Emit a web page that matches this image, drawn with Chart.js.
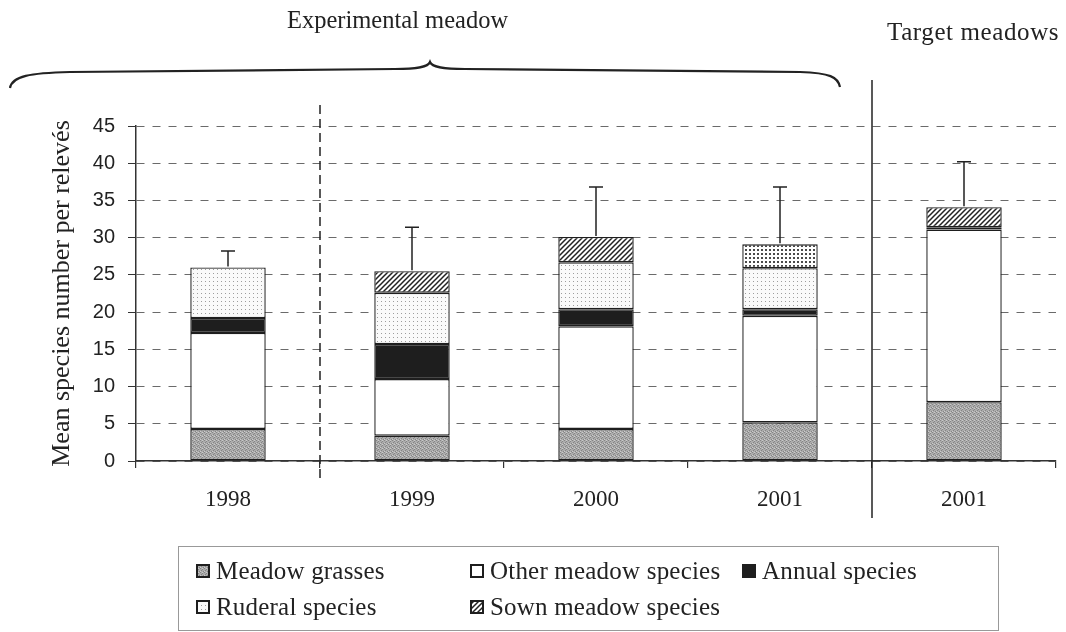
<!DOCTYPE html>
<html><head><meta charset="utf-8">
<script src="https://cdn.jsdelivr.net/npm/chart.js@4.4.0/dist/chart.umd.min.js"></script>
<style>
html,body{margin:0;padding:0;background:#fff;}
#wrap{position:relative;width:1066px;height:632px;overflow:hidden;background:#fff;}
#c{position:absolute;left:0;top:0;}
.lbl{position:absolute;font-family:"Liberation Serif",serif;color:#222;white-space:nowrap;line-height:26px;}
#legend{position:absolute;left:178px;top:546px;width:821px;height:85px;border:1px solid #999;box-sizing:border-box;font-family:"Liberation Serif",serif;font-size:25px;color:#222;}
.item{position:absolute;display:flex;align-items:center;white-space:nowrap;line-height:28px;height:28px;letter-spacing:0.2px;}
.item canvas{width:14px;height:14px;margin-right:6px;}
</style></head>
<body><div id="wrap">
<canvas id="c" width="1066" height="632"></canvas>
<svg width="1066" height="632" style="position:absolute;left:0;top:0;pointer-events:none">
<path d="M10,88 C12,76 30,73 70,72 L395,69 C418,69 428,67 430,62 C432,67 442,69 465,69 L800,72 C830,73 838,77 840,87" fill="none" stroke="#222" stroke-width="2.2"/>
</svg>
<div class="lbl" style="left:287px;top:7px;font-size:24.5px">Experimental meadow</div>
<div class="lbl" style="left:887px;top:19px;font-size:25px;letter-spacing:0.6px">Target meadows</div>
<div id="legend"></div>
</div>
<script>
// ---- data ----
const categories = ['1998', '1999', '2000', '2001', '2001'];
const meadowGrasses = [4.3, 3.4, 4.3, 5.2, 7.9];
const otherMeadow = [12.9, 7.6, 13.8, 14.3, 23.2];
const annualSpecies = [2.0, 4.7, 2.3, 0.9, 0.3];
const ruderalSpecies = [6.8, 6.9, 6.3, 5.5, 0];
const sownMeadow = [0, 2.9, 3.4, 3.2, 2.7];
const errorSD = [2.2, 5.9, 6.7, 7.7, 6.1];
const seriesNames = ['Meadow grasses', 'Other meadow species', 'Annual species', 'Ruderal species', 'Sown meadow species'];
const yTicks = [0, 5, 10, 15, 20, 25, 30, 35, 40, 45];

// ---- patterns ----
function makePattern(kind) {
  const c = document.createElement('canvas');
  const g = c.getContext('2d');
  if (kind === 'grass') {
    c.width = c.height = 4;
    g.fillStyle = '#acacac'; g.fillRect(0, 0, 4, 4);
    g.fillStyle = '#858585';
    [[0,0],[2,1],[1,2],[3,3]].forEach(p => g.fillRect(p[0], p[1], 1, 1));
    g.fillStyle = '#cbcbcb';
    [[2,0],[0,3]].forEach(p => g.fillRect(p[0], p[1], 1, 1));
  } else if (kind === 'ruderal') {
    c.width = c.height = 4;
    g.fillStyle = '#fafafa'; g.fillRect(0, 0, 4, 4);
    g.fillStyle = '#9d9d9d'; g.fillRect(1, 1, 1, 1);
  } else if (kind === 'hatch') {
    c.width = c.height = 5;
    g.fillStyle = '#fff'; g.fillRect(0, 0, 5, 5);
    g.strokeStyle = '#222'; g.lineWidth = 1.5;
    g.beginPath();
    g.moveTo(-1, 6); g.lineTo(6, -1);
    g.moveTo(-1, 1); g.lineTo(1, -1);
    g.moveTo(4, 6); g.lineTo(6, 4);
    g.stroke();
  } else if (kind === 'dots') {
    c.width = c.height = 4;
    g.fillStyle = '#fff'; g.fillRect(0, 0, 4, 4);
    g.fillStyle = '#4a4a4a'; g.fillRect(1, 1, 2, 2);
  }
  return c;
}
const ctxMain = document.getElementById('c').getContext('2d');
const P = {};
['grass','ruderal','hatch','dots'].forEach(k => P[k] = ctxMain.createPattern(makePattern(k), 'repeat'));

const fills = [P.grass, '#ffffff', '#1e1e1e', P.ruderal, [P.hatch, P.hatch, P.hatch, P.dots, P.hatch]];
const values = [meadowGrasses, otherMeadow, annualSpecies, ruderalSpecies, sownMeadow];

const datasets = values.map((v, i) => ({
  label: seriesNames[i],
  data: v,
  backgroundColor: fills[i],
  borderColor: '#1e1e1e',
  borderWidth: 1.4,
  borderSkipped: false,
  inflateAmount: 0,
  barPercentage: 0.41,
  categoryPercentage: 1.0
}));

const extras = {
  id: 'extras',
  afterDatasetsDraw(chart) {
    const {ctx, scales: {x, y}} = chart;
    ctx.save();
    ctx.strokeStyle = '#222';
    ctx.lineWidth = 1.5;
    categories.forEach((c, i) => {
      const total = values.reduce((s, arr) => s + arr[i], 0);
      const px = x.getPixelForValue(i);
      const y0 = y.getPixelForValue(total);
      const y1 = y.getPixelForValue(total + errorSD[i]);
      ctx.beginPath();
      ctx.moveTo(px, y0 - 1); ctx.lineTo(px, y1);
      ctx.moveTo(px - 7, y1); ctx.lineTo(px + 7, y1);
      ctx.stroke();
    });
    const b1 = (x.getPixelForValue(0) + x.getPixelForValue(1)) / 2;
    const b2 = (x.getPixelForValue(3) + x.getPixelForValue(4)) / 2;
    ctx.lineWidth = 1.5;
    ctx.setLineDash([9, 5]);
    ctx.beginPath(); ctx.moveTo(b1, 105); ctx.lineTo(b1, 480); ctx.stroke();
    ctx.setLineDash([]);
    ctx.beginPath(); ctx.moveTo(b2, 80); ctx.lineTo(b2, 518); ctx.stroke();
    ctx.restore();
  }
};

new Chart(ctxMain, {
  type: 'bar',
  data: { labels: categories, datasets },
  options: {
    responsive: false,
    animation: false,
    layout: { padding: { top: 126, right: 10, left: 0, bottom: 0 } },
    plugins: { legend: { display: false }, tooltip: { enabled: false } },
    scales: {
      x: {
        stacked: true,
        grid: { offset: true, drawOnChartArea: false, drawTicks: true, tickLength: 7, color: '#333', lineWidth: 1.2 },
        border: { color: '#333', width: 1.5 },
        ticks: { font: { family: 'Liberation Serif', size: 23 }, color: '#222', padding: 18 },
        afterFit(s) { s.height = 171; }
      },
      y: {
        stacked: true,
        min: 0, max: 45,
        afterBuildTicks(s) { s.ticks = yTicks.map(v => ({ value: v })); },
        ticks: { font: { family: 'Liberation Sans', size: 20 }, color: '#222', padding: 13 },
        grid: { color: '#6a6a6a', lineWidth: 1, tickLength: 8, tickColor: '#333' },
        border: { color: '#333', width: 1.5, dash: [8, 8] },
        title: { display: true, text: 'Mean species number per relevés', font: { family: 'Liberation Serif', size: 26 }, color: '#222', padding: { top: 47, bottom: 0 } },
        afterFit(s) { s.width = 136; }
      }
    }
  },
  plugins: [extras]
});

// ---- legend ----
const legend = document.getElementById('legend');
const swatchKinds = ['grass', null, 'annual', 'ruderal', 'hatch'];
const pos = [[17, 10], [291, 10], [563, 10], [17, 46], [291, 46]];
seriesNames.forEach((name, i) => {
  const it = document.createElement('div');
  it.className = 'item';
  it.style.left = pos[i][0] + 'px';
  it.style.top = pos[i][1] + 'px';
  const sw = document.createElement('canvas');
  sw.width = 14; sw.height = 14;
  const g = sw.getContext('2d');
  const k = swatchKinds[i];
  g.fillStyle = k === 'annual' ? '#1e1e1e' : (k ? g.createPattern(makePattern(k), 'repeat') : '#fff');
  g.fillRect(0, 0, 14, 14);
  g.strokeStyle = '#1e1e1e'; g.lineWidth = 2; g.strokeRect(1, 1, 12, 12);
  it.appendChild(sw);
  const t = document.createElement('span');
  t.textContent = name;
  it.appendChild(t);
  legend.appendChild(it);
});
</script>
</body></html>
